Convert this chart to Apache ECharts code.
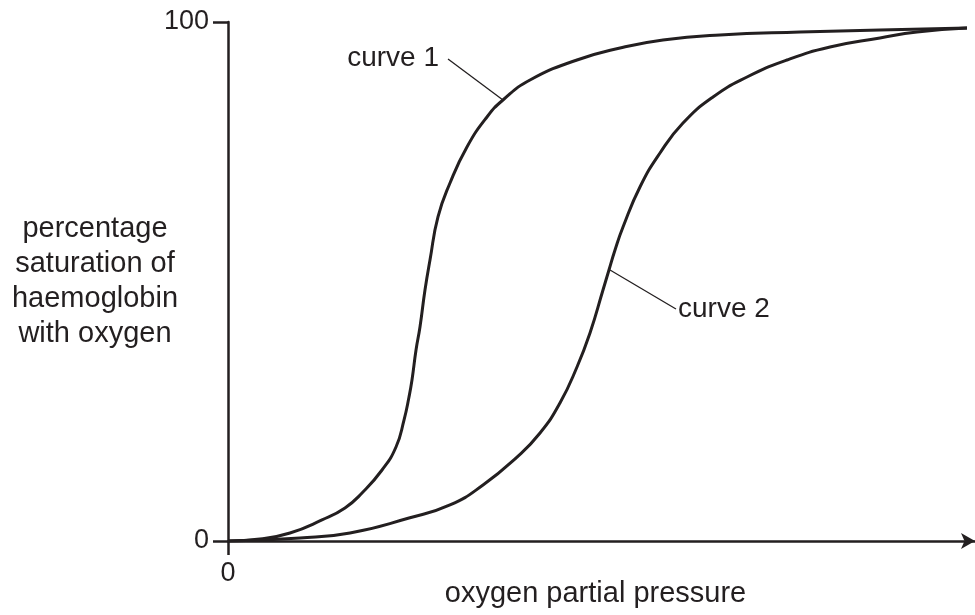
<!DOCTYPE html>
<html><head><meta charset="utf-8">
<script src="https://cdn.jsdelivr.net/npm/echarts@6/dist/echarts.min.js"></script>
<style>html,body{margin:0;padding:0;background:#fff}#c{width:975px;height:615px}</style>
</head><body><div id="c"></div>
<script>
// Data (x: oxygen partial pressure, arbitrary units 0-100; y: % saturation)
const curve1X = [0, 4.28, 8.30, 12.58, 15.66, 17.94, 20.62, 22.49, 23.56, 24.23, 24.63, 25.17, 25.70, 26.37, 27.04, 28.11, 29.72, 31.99, 34.67, 36.81, 40.43, 46.72, 52.48, 58.23, 65.86, 76.57, 87.28, 98.93];
const curve1Y = [0, 0.39, 1.54, 4.05, 6.36, 9.25, 13.68, 18.11, 23.31, 27.75, 31.02, 36.80, 41.23, 48.36, 54.14, 62.43, 68.98, 75.92, 81.70, 84.97, 88.83, 92.68, 94.99, 96.53, 97.50, 98.07, 98.46, 98.84];
const curve2X = [0, 9.64, 16.33, 24.23, 29.72, 34.14, 38.69, 41.77, 44.44, 46.72, 48.46, 50.20, 51.00, 51.81, 52.88, 55.15, 57.83, 60.91, 64.93, 69.48, 74.83, 80.59, 87.28, 92.24, 98.93];
const curve2Y = [0, 0.58, 1.54, 4.43, 6.94, 10.79, 16.18, 20.81, 26.59, 33.53, 40.08, 48.36, 52.22, 56.07, 60.50, 68.21, 74.76, 80.54, 85.55, 89.40, 92.68, 95.18, 96.92, 98.07, 98.84];
const yTickValues = [0, 100];
const xTickValues = [0];
const curveNames = ['curve 1', 'curve 2'];
// leader lines: [from point on curve, to label end] in data coords
const leader1 = [[36.81, 84.97], [29.45, 92.87]];
const leader2 = [[51.14, 52.22], [59.97, 44.70]];
const label1At = [28.25, 93.06];
const label2At = [60.24, 44.70];
const xAxisTitle = 'oxygen partial pressure';
const yAxisTitle = 'percentage\nsaturation of\nhaemoglobin\nwith oxygen';

const INK = '#231f20';
const FONT = '"Liberation Sans", Arial, Helvetica, sans-serif';
const FS_NUM = 27;
const FS_TXT = 29;

const zip = (xs, ys) => xs.map((x, i) => [x, ys[i]]);

function curveSeries(name, data, leader, labelAt, side) {
  return {
    name: name,
    type: 'line',
    data: data,
    smooth: 0.5,
    symbol: 'none',
    lineStyle: { color: INK, width: 3 },
    z: 3,
    markLine: {
      silent: true,
      symbol: ['none', 'none'],
      label: { show: false },
      lineStyle: { color: INK, width: 1.3, type: 'solid' },
      data: [[{ coord: leader[0] }, { coord: leader[1] }]],
      animation: false
    },
    markPoint: {
      silent: true,
      symbol: 'circle',
      symbolSize: 0,
      data: [{ coord: labelAt }],
      label: {
        show: true,
        formatter: name,
        position: side,
        distance: 0,
        color: INK,
        fontFamily: FONT,
        fontSize: 28
      },
      animation: false
    }
  };
}

const chart = echarts.init(document.getElementById('c'), null, { renderer: 'canvas' });
chart.setOption({
  animation: false,
  backgroundColor: '#ffffff',
  grid: { left: 228, right: 0, top: 22, bottom: 74, containLabel: false, outerBoundsMode: 'none' },
  xAxis: {
    type: 'value',
    min: 0, max: 100, interval: 100,
    name: xAxisTitle,
    nameLocation: 'middle',
    nameGap: 53,
    nameMoveOverlap: false,
    nameTextStyle: { color: INK, fontFamily: FONT, fontSize: FS_TXT, verticalAlign: 'middle', padding: [0, 12, 0, 0] },
    axisLine: { show: true, lineStyle: { color: INK, width: 2.5 }, symbol: ['none', 'arrow'], symbolSize: [12, 14] },
    axisTick: { show: true, inside: false, length: 14, lineStyle: { color: INK, width: 2.5 }, customValues: xTickValues },
    axisLabel: { show: true, margin: 33, verticalAlign: 'middle', color: INK, fontFamily: FONT, fontSize: FS_NUM, customValues: xTickValues,
      formatter: v => (xTickValues.indexOf(v) >= 0 ? String(v) : '') },
    splitLine: { show: false }
  },
  yAxis: {
    type: 'value',
    min: 0, max: 100, interval: 100,
    name: yAxisTitle,
    nameLocation: 'middle',
    nameRotate: 0,
    nameGap: 133,
    nameMoveOverlap: false,
    nameTextStyle: { color: INK, fontFamily: FONT, fontSize: FS_TXT, lineHeight: 35, align: 'center', verticalAlign: 'middle' },
    axisLine: { show: true, lineStyle: { color: INK, width: 2.5 } },
    axisTick: { show: true, inside: false, length: 15, lineStyle: { color: INK, width: 2.5 }, customValues: yTickValues },
    axisLabel: { show: true, margin: 19, color: INK, fontFamily: FONT, fontSize: FS_NUM, customValues: yTickValues },
    splitLine: { show: false }
  },
  series: [
    curveSeries(curveNames[0], zip(curve1X, curve1Y), leader1, label1At, 'left'),
    curveSeries(curveNames[1], zip(curve2X, curve2Y), leader2, label2At, 'right')
  ]
});
</script>
</body></html>
